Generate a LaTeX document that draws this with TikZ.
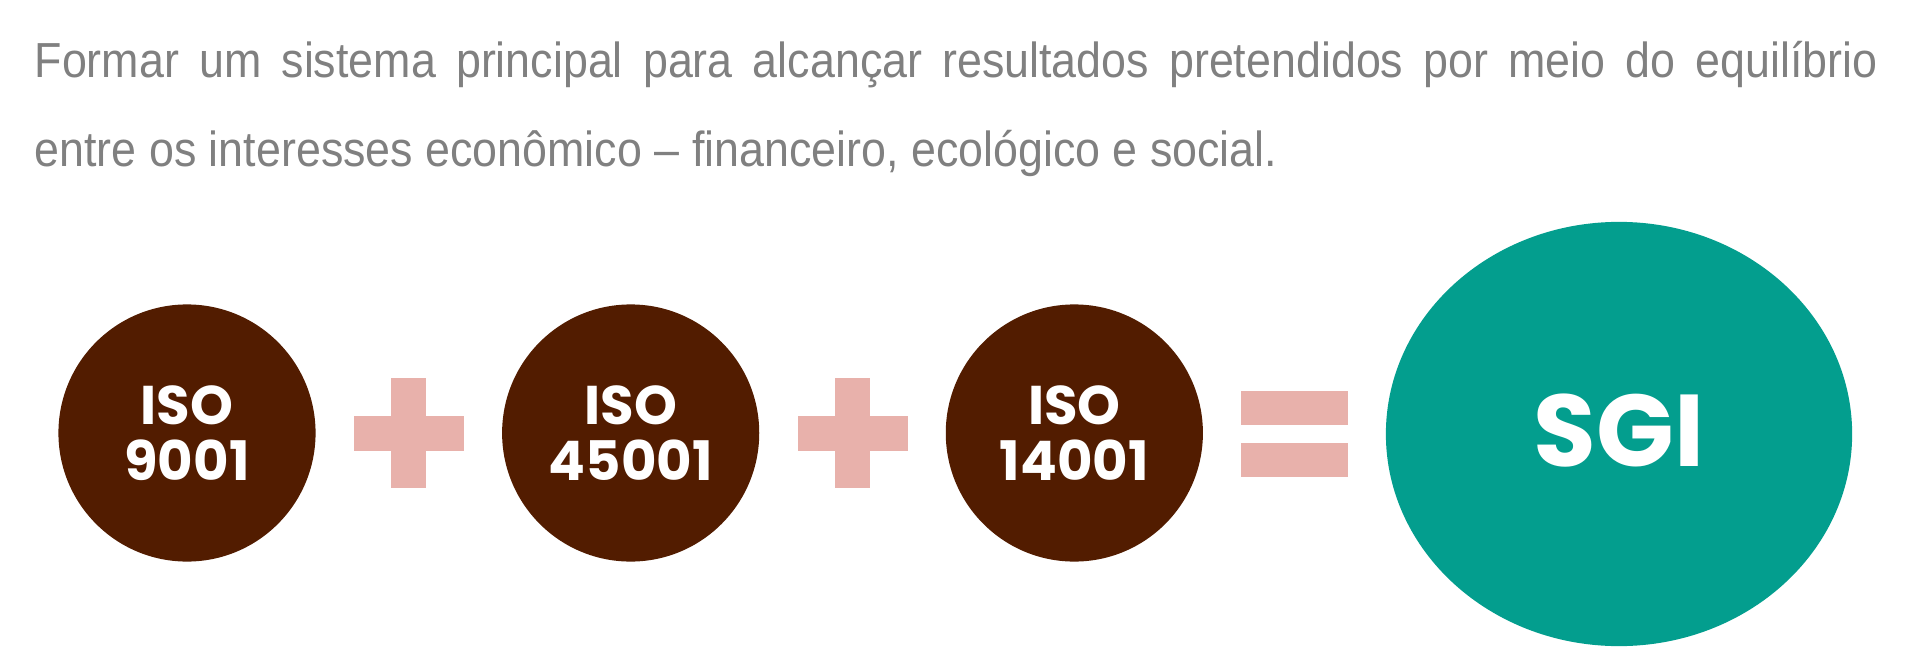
\documentclass[tikz,border=0pt]{standalone}
\usepackage{fontspec}
\setmainfont{Liberation Sans}[FakeStretch=0.91]
\newfontfamily\isofont{Poppins}
\usetikzlibrary{positioning,shapes.geometric}

\definecolor{isobrown}{HTML}{521C00}
\definecolor{sgiteal}{HTML}{039E8E}
\definecolor{signpink}{HTML}{E8B1AB}
\definecolor{txtgray}{HTML}{808080}

\tikzset{
  iso/.style={circle, fill=isobrown, text=white, minimum size=2.57cm, inner sep=0pt,
    align=center, font=\isofont\bfseries\fontsize{15.5}{16}\selectfont},
  sgi/.style={ellipse, fill=sgiteal, text=white, minimum width=4.66cm, minimum height=4.24cm,
    inner sep=0pt, font=\isofont\bfseries\fontsize{29}{32}\selectfont},
  plus/.pic={
    \fill[signpink] (-55,-17.5) rectangle (55,17.5);
    \fill[signpink] (-17.5,-55) rectangle (17.5,55);
  },
  equal/.pic={
    \fill[signpink] (-53.5,-43) rectangle (53.5,-9);
    \fill[signpink] (-53.5,9) rectangle (53.5,43);
  }
}

\begin{document}
\begin{tikzpicture}[x=0.01cm, y=-0.01cm]
\useasboundingbox (0,0) rectangle (1910,667);

\node[anchor=north west, inner sep=0pt, text width=18.42cm, align=justify, text=txtgray,
  font=\fontsize{14}{25.3}\selectfont] (intro) at (34,41)
  {Formar um sistema principal para alcançar resultados pretendidos por meio do equilíbrio\linebreak entre os interesses econômico – financeiro, ecológico e social.};

% the three standards
\node[iso] (iso9001) at (187,433) {ISO\\9001};
\node[iso, right=1.85cm of iso9001] (iso45001) {ISO\\45001};
\node[iso, right=1.85cm of iso45001] (iso14001) {ISO\\14001};

% result
\node[sgi] (sgi) at (1619,434) {\raisebox{0.07cm}{SGI}};

% signs between them
\path (iso9001) -- (iso45001) coordinate[midway] (plusA);
\path (iso45001) -- (iso14001) coordinate[midway] (plusB);
\path (iso14001.east) -- (sgi.west) coordinate[midway] (eq);
\pic at (plusA) {plus};
\pic at (plusB) {plus};
\pic at (eq) {equal};
\end{tikzpicture}
\end{document}
